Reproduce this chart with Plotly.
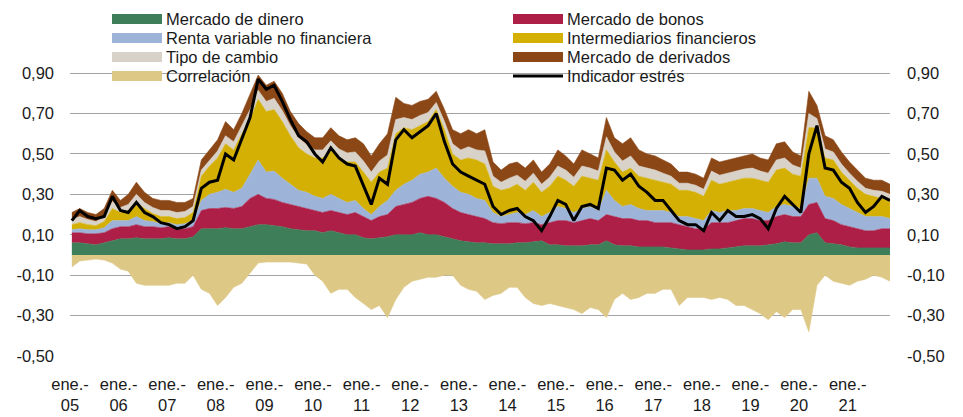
import plotly.graph_objects as go

# ---------------- data (bimonthly readings, Jan 2005 - Nov 2021) ----------------
years = list(range(2005, 2022))
months = [1, 3, 5, 7, 9, 11]
dates = [f"{y}-{m:02d}-15" for y in years for m in months]

mercado_dinero = [
    .06, .06, .055, .05, .06, .07,
    .08, .08, .085, .08, .08, .08,
    .085, .08, .08, .09, .13, .13,
    .13, .135, .13, .13, .14, .15,
    .15, .145, .14, .13, .125, .12,
    .12, .11, .12, .11, .10, .10,
    .085, .08, .085, .09, .10, .10,
    .10, .11, .10, .10, .09, .08,
    .07, .065, .06, .06, .055, .055,
    .055, .06, .06, .065, .07, .05,
    .05, .045, .045, .045, .05, .05,
    .07, .05, .045, .045, .04, .04,
    .04, .04, .035, .03, .025, .025,
    .025, .03, .03, .035, .04, .045,
    .045, .045, .05, .055, .065, .06,
    .06, .10, .11, .06, .055, .05,
    .04, .035, .035, .035, .035, .035,
]
mercado_bonos = [
    .05, .05, .05, .055, .05, .06,
    .06, .06, .065, .06, .06, .055,
    .055, .05, .05, .05, .09, .10,
    .10, .10, .10, .11, .14, .15,
    .13, .13, .12, .12, .115, .11,
    .10, .10, .10, .10, .10, .11,
    .105, .09, .105, .11, .14, .15,
    .16, .17, .19, .18, .17, .15,
    .14, .135, .13, .12, .105, .10,
    .105, .10, .095, .095, .08, .11,
    .12, .125, .115, .125, .13, .12,
    .13, .14, .135, .135, .13, .13,
    .12, .12, .125, .12, .115, .105,
    .105, .13, .13, .125, .13, .135,
    .135, .125, .12, .135, .135, .13,
    .13, .15, .15, .12, .115, .10,
    .10, .095, .085, .085, .095, .095,
]
renta_variable = [
    .015, .02, .02, .02, .025, .04,
    .03, .03, .04, .03, .025, .02,
    .02, .02, .025, .03, .05, .07,
    .08, .09, .08, .09, .12, .17,
    .13, .14, .12, .10, .08, .08,
    .07, .07, .08, .07, .06, .06,
    .04, .03, .05, .07, .08, .10,
    .11, .12, .12, .15, .12, .11,
    .10, .10, .09, .09, .05, .035,
    .04, .05, .045, .06, .04, .05,
    .07, .06, .05, .06, .06, .05,
    .12, .08, .06, .07, .06, .05,
    .06, .06, .05, .04, .05, .05,
    .04, .06, .05, .06, .05, .05,
    .05, .05, .04, .05, .05, .05,
    .04, .13, .12, .11, .11, .10,
    .09, .08, .07, .07, .06, .05,
]
intermediarios = [
    .025, .03, .025, .02, .03, .06,
    .04, .05, .07, .06, .04, .035,
    .03, .03, .03, .04, .12, .14,
    .17, .225, .21, .27, .27, .30,
    .30, .305, .28, .24, .21, .19,
    .19, .20, .22, .20, .20, .19,
    .18, .16, .17, .16, .28, .28,
    .25, .24, .25, .29, .24, .16,
    .16, .18, .19, .18, .13, .13,
    .13, .14, .12, .14, .12, .13,
    .15, .14, .13, .16, .14, .15,
    .20, .19, .17, .18, .16, .16,
    .15, .14, .14, .13, .13, .13,
    .12, .15, .14, .14, .15, .15,
    .15, .15, .15, .18, .18, .16,
    .16, .25, .25, .19, .19, .16,
    .14, .12, .11, .10, .09, .09,
]
tipo_cambio = [
    .025, .03, .025, .02, .025, .035,
    .025, .03, .04, .03, .03, .03,
    .03, .03, .03, .03, .03, .03,
    .035, .04, .04, .04, .05, .045,
    .05, .055, .055, .05, .05, .045,
    .04, .04, .045, .045, .045, .05,
    .055, .05, .055, .065, .07, .05,
    .05, .05, .045, .035, .04, .05,
    .05, .055, .05, .065, .05, .04,
    .05, .045, .045, .045, .04, .045,
    .05, .05, .045, .05, .05, .045,
    .065, .05, .055, .06, .05, .05,
    .05, .045, .04, .035, .035, .035,
    .035, .045, .045, .045, .045, .045,
    .05, .045, .045, .05, .05, .045,
    .04, .07, .045, .045, .04, .04,
    .035, .035, .03, .03, .035, .03,
]
mercado_derivados = [
    .035, .04, .035, .035, .04, .055,
    .035, .05, .06, .05, .045, .05,
    .05, .05, .045, .04, .05, .05,
    .055, .07, .06, .06, .08, .075,
    .08, .085, .085, .07, .07, .065,
    .06, .06, .065, .065, .065, .07,
    .085, .08, .085, .105, .11, .07,
    .07, .07, .065, .055, .06, .07,
    .08, .085, .08, .105, .07, .06,
    .07, .065, .065, .065, .06, .065,
    .08, .07, .065, .08, .07, .065,
    .095, .07, .085, .09, .08, .07,
    .07, .065, .06, .055, .055, .055,
    .055, .065, .065, .065, .065, .065,
    .07, .065, .065, .08, .08, .065,
    .06, .11, .065, .065, .06, .06,
    .055, .055, .05, .05, .055, .05,
]
correlacion = [
    -.06, -.03, -.025, -.02, -.025, -.04,
    -.07, -.08, -.14, -.15, -.15, -.15,
    -.15, -.14, -.14, -.10, -.17, -.19,
    -.25, -.21, -.16, -.14, -.09, -.04,
    -.035, -.035, -.035, -.035, -.04, -.045,
    -.10, -.13, -.19, -.17, -.17, -.21,
    -.24, -.27, -.25, -.31, -.22, -.16,
    -.13, -.12, -.11, -.11, -.10, -.10,
    -.15, -.17, -.18, -.22, -.20, -.19,
    -.16, -.16, -.21, -.24, -.25, -.24,
    -.25, -.26, -.27, -.29, -.26, -.27,
    -.31, -.22, -.19, -.22, -.21, -.19,
    -.19, -.17, -.17, -.25, -.21, -.21,
    -.21, -.22, -.21, -.22, -.25, -.25,
    -.27, -.29, -.32, -.28, -.31, -.27,
    -.27, -.38, -.15, -.10, -.13, -.14,
    -.15, -.13, -.12, -.10, -.11, -.13,
]
indicador_estres = [
    .17, .22, .19, .18, .19, .29,
    .22, .21, .26, .21, .19, .16,
    .15, .13, .14, .17, .33, .36,
    .37, .50, .47, .57, .68, .87,
    .82, .84, .76, .67, .59, .56,
    .50, .46, .53, .48, .45, .44,
    .34, .25, .38, .35, .57, .62,
    .58, .61, .64, .70, .56, .45,
    .41, .39, .37, .35, .24, .20,
    .22, .23, .19, .17, .12, .19,
    .27, .25, .17, .24, .25, .23,
    .43, .42, .37, .40, .34, .31,
    .27, .27, .22, .17, .15, .15,
    .12, .21, .17, .22, .19, .19,
    .20, .18, .13, .23, .29, .25,
    .21, .50, .64, .43, .42, .36,
    .33, .26, .21, .24, .29, .27,
]

ytick_vals = [-0.5, -0.3, -0.1, 0.1, 0.3, 0.5, 0.7, 0.9]
ytick_text = ["-0,50", "-0,30", "-0,10", "0,10", "0,30", "0,50", "0,70", "0,90"]
xtick_vals = [f"{y}-01-01" for y in years]
xtick_text = [f"ene.-<br>{str(y)[2:]}" for y in years]

stack_names = ["Mercado de dinero", "Mercado de bonos", "Renta variable no financiera",
               "Intermediarios financieros", "Tipo de cambio", "Mercado de derivados"]
stack_values = [mercado_dinero, mercado_bonos, renta_variable,
                intermediarios, tipo_cambio, mercado_derivados]
stack_colors = ["#3E7E58", "#AD1F46", "#9DB4D8", "#D3B003", "#D8D2C8", "#8C4716"]
corr_color = "#DDC886"

FONT = "Liberation Sans"
FSIZE = 16.5
W, H = 963, 417
L, R, T, B = 70, 73, 63, 61
PW, PH = W - L - R, H - T - B

fig = go.Figure()
for name, vals, col in zip(stack_names, stack_values, stack_colors):
    fig.add_trace(go.Scatter(x=dates, y=vals, name=name, stackgroup="stress",
                             mode="lines", line=dict(width=0.6, color=col),
                             fillcolor=col, showlegend=False, hoverinfo="skip"))
fig.add_trace(go.Scatter(x=dates, y=correlacion, name="Correlación", fill="tozeroy",
                         mode="lines", line=dict(width=0.6, color=corr_color),
                         fillcolor=corr_color, showlegend=False, hoverinfo="skip"))
fig.add_trace(go.Scatter(x=dates, y=indicador_estres, name="Indicador estrés",
                         mode="lines", line=dict(width=3, color="black"),
                         showlegend=False, hoverinfo="skip"))
fig.add_trace(go.Scatter(x=[dates[0]], y=[None], yaxis="y2", showlegend=False,
                         hoverinfo="skip"))

# ---- manual legend (two columns) ----
def px(xp):
    return (xp - L) / PW

def py(yp):
    return 1 - (yp - T) / PH

legend_items = [
    ("Mercado de dinero", stack_colors[0], "fill"),
    ("Mercado de bonos", stack_colors[1], "fill"),
    ("Renta variable no financiera", stack_colors[2], "fill"),
    ("Intermediarios financieros", stack_colors[3], "fill"),
    ("Tipo de cambio", stack_colors[4], "fill"),
    ("Mercado de derivados", stack_colors[5], "fill"),
    ("Correlación", corr_color, "fill"),
    ("Indicador estrés", "black", "line"),
]
col_x = [112, 513]
row_y = [19, 38, 57, 76]
shapes = []
annotations = []
for i, (label, col, kind) in enumerate(legend_items):
    cx = col_x[i % 2]
    cy = row_y[i // 2]
    if kind == "fill":
        shapes.append(dict(type="rect", xref="paper", yref="paper",
                           x0=px(cx), x1=px(cx + 50), y0=py(cy - 5), y1=py(cy + 5),
                           fillcolor=col, line=dict(width=0)))
    else:
        shapes.append(dict(type="line", xref="paper", yref="paper",
                           x0=px(cx), x1=px(cx + 50), y0=py(cy), y1=py(cy),
                           line=dict(color=col, width=3)))
    annotations.append(dict(text=label, xref="paper", yref="paper",
                            x=px(cx + 53), y=py(cy), xanchor="left", yanchor="middle",
                            borderpad=0,
                            showarrow=False, font=dict(family=FONT, size=FSIZE, color="#1a1a1a")))

axis_font = dict(family=FONT, size=FSIZE, color="#1a1a1a")
fig.update_layout(
    width=W, height=H,
    margin=dict(l=L, r=R, t=T, b=B, autoexpand=False),
    paper_bgcolor="white", plot_bgcolor="white",
    showlegend=False,
    shapes=shapes, annotations=annotations,
    xaxis=dict(type="date", range=["2005-01-01", "2021-11-15"], automargin=False,
               tickvals=xtick_vals, ticktext=xtick_text, tickangle=0,
               showgrid=False, zeroline=False, showline=False, ticks="",
               ticklabelstandoff=16, tickfont=axis_font),
    yaxis=dict(range=[-0.5, 0.95], tickvals=ytick_vals, ticktext=ytick_text,
               automargin=False,
               showgrid=True, gridcolor="#A3A3A3", gridwidth=1, zeroline=False,
               showline=False, ticks="", ticklabelstandoff=15, tickfont=axis_font),
    yaxis2=dict(range=[-0.5, 0.95], tickvals=ytick_vals, ticktext=ytick_text,
                automargin=False,
                overlaying="y", side="right", showgrid=False, zeroline=False,
                showline=False, ticks="", ticklabelstandoff=16, tickfont=axis_font),
)

fig.write_html("out.html", config={"displayModeBar": False},
               post_script="document.body.style.margin='0';document.body.style.padding='0';")
